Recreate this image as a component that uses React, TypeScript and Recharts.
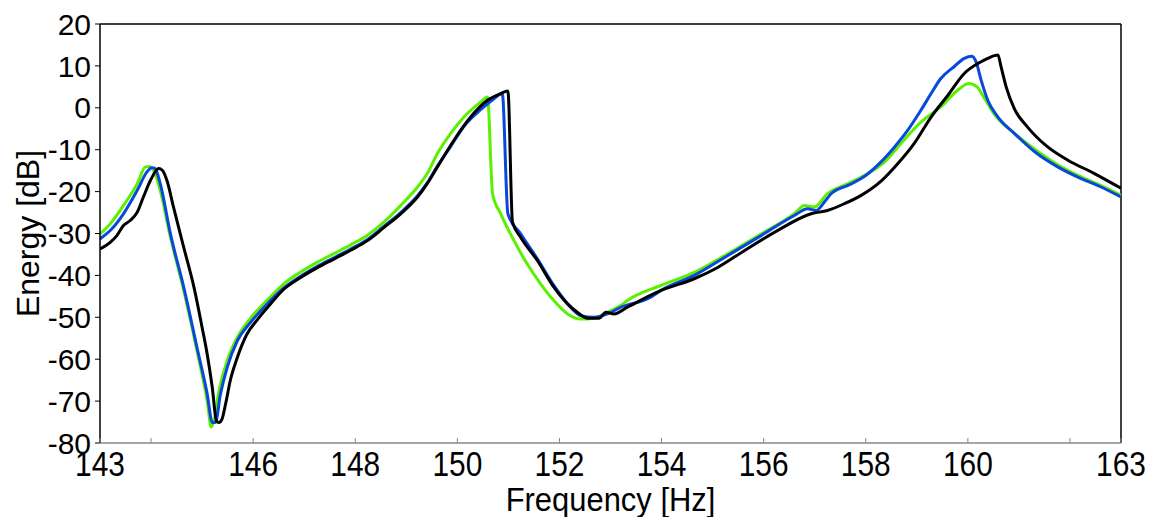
import { LineChart, Line, XAxis, YAxis, ReferenceLine } from 'recharts';

// frequency ticks (only some get a label)
const freqTicks = [143, 144, 146, 148, 150, 152, 154, 156, 158, 160, 162, 163];
const freqLabels = [143, 146, 148, 150, 152, 154, 156, 158, 160, 163];
const energyTicks = [-80, -70, -60, -50, -40, -30, -20, -10, 0, 10, 20];

// green curve
const greenFreq = [
  143.0, 143.2, 143.46, 143.73, 143.89, 143.97, 144.08, 144.18, 144.38, 144.64, 144.9, 145.1, 145.18, 145.24,
  145.33, 145.49, 145.69, 145.95, 146.3, 146.6, 146.93, 147.25, 147.58, 147.91, 148.24, 148.56, 148.89, 149.22,
  149.41, 149.61, 149.87, 150.13, 150.46, 150.59, 150.69, 150.85, 151.11, 151.37, 151.63, 151.89, 152.16, 152.42,
  152.68, 152.94, 153.2, 153.33, 153.99, 154.64, 155.29, 155.95, 156.6, 156.8, 156.99, 157.25, 157.65, 158.04,
  158.37, 158.69, 159.08, 159.47, 159.8, 160.02, 160.18, 160.31, 160.51, 160.91, 161.31, 161.76, 162.22, 162.61, 163.0,
];
const greenDb = [
  -30.1, -27.7, -23.3, -18.1, -14.1, -14.0, -15.7, -19.7, -30.9, -43.6, -58.0, -70.0, -76.2, -74.3,
  -67.6, -60.4, -54.8, -50.2, -45.6, -42.0, -39.2, -36.9, -34.8, -32.7, -30.4, -27.3, -23.3, -18.9,
  -15.7, -10.9, -6.1, -2.2, 1.4, 2.6, -20.5, -25.3, -31.7, -37.3, -42.0, -46.0, -49.2, -50.4,
  -50.2, -48.8, -47.2, -46.0, -42.4, -39.3, -34.9, -30.1, -25.3, -23.3, -23.7, -20.5, -18.1, -15.7,
  -12.9, -8.5, -3.4, 0.2, 4.2, 5.8, 5.0, 2.6, -1.4, -6.1, -9.9, -13.6, -16.5, -18.6, -20.9,
];

// blue curve
const blueFreq = [
  143.0, 143.2, 143.46, 143.73, 143.92, 144.02, 144.08, 144.18, 144.38, 144.64, 144.9, 145.1, 145.2, 145.26,
  145.36, 145.49, 145.69, 145.95, 146.3, 146.6, 146.93, 147.25, 147.58, 147.91, 148.24, 148.56, 148.89, 149.22,
  149.41, 149.61, 149.87, 150.13, 150.46, 150.7, 150.88, 150.99, 151.24, 151.57, 151.89, 152.16, 152.42, 152.68,
  152.94, 153.2, 153.79, 153.99, 154.64, 155.29, 155.95, 156.6, 156.86, 157.03, 157.19, 157.32, 157.65, 157.91,
  158.3, 158.56, 158.82, 159.08, 159.28, 159.47, 159.73, 159.93, 160.08, 160.16, 160.26, 160.39, 160.59, 160.91,
  161.31, 161.76, 162.22, 162.61, 163.0,
];
const blueDb = [
  -31.3, -29.3, -25.3, -19.7, -15.3, -14.3, -14.5, -18.1, -30.1, -42.8, -57.2, -68.3, -75.1, -75.1,
  -68.3, -62.0, -55.6, -51.2, -46.5, -43.0, -40.2, -37.9, -35.8, -33.7, -31.4, -28.3, -25.0, -21.0,
  -17.9, -13.9, -9.2, -4.4, -0.4, 2.0, 3.4, -25.3, -30.1, -36.1, -42.4, -46.8, -49.6, -50.0,
  -49.2, -47.6, -45.2, -43.6, -40.0, -35.3, -30.5, -25.7, -24.1, -24.5, -22.5, -20.5, -18.5, -16.9,
  -12.9, -9.4, -5.4, -0.6, 3.4, 7.0, 9.8, 11.8, 12.3, 11.0, 6.6, 1.8, -2.2, -6.1,
  -10.5, -14.1, -16.9, -18.9, -21.3,
];

// black curve
const blackFreq = [
  143.0, 143.2, 143.33, 143.46, 143.59, 143.73, 143.85, 143.99, 144.15, 144.22, 144.31, 144.44, 144.64, 144.84,
  145.0, 145.1, 145.2, 145.28, 145.33, 145.39, 145.46, 145.55, 145.69, 145.88, 146.08, 146.34, 146.6, 146.93,
  147.25, 147.58, 147.91, 148.24, 148.56, 148.89, 149.22, 149.41, 149.61, 149.93, 150.26, 150.59, 150.85, 150.99,
  151.08, 151.24, 151.57, 151.89, 152.16, 152.35, 152.55, 152.78, 152.91, 153.07, 153.33, 153.99, 154.64, 155.1,
  155.62, 156.27, 156.93, 157.25, 157.58, 157.91, 158.3, 158.63, 158.95, 159.28, 159.61, 159.93, 160.26, 160.39,
  160.59, 160.65, 160.75, 160.91, 161.17, 161.57, 161.96, 162.48, 163.0,
];
const blackDb = [
  -33.7, -32.1, -30.5, -28.1, -26.9, -24.9, -21.3, -17.3, -14.5, -14.9, -17.3, -23.7, -33.3, -42.8,
  -52.4, -58.8, -66.8, -74.7, -75.1, -74.3, -70.7, -65.2, -59.6, -54.0, -50.6, -46.8, -43.3, -40.5,
  -38.2, -36.1, -34.0, -31.7, -28.6, -25.3, -21.3, -18.1, -14.1, -7.8, -2.2, 1.8, 3.4, 4.0,
  -27.3, -30.9, -36.5, -42.8, -46.8, -48.8, -50.2, -50.2, -48.8, -49.2, -47.6, -43.6, -40.8, -38.1,
  -34.1, -29.3, -25.3, -24.5, -22.9, -20.9, -17.5, -13.3, -8.5, -2.2, 3.0, 8.2, 11.0, 11.8,
  12.6, 9.8, 5.0, -0.2, -4.6, -9.4, -12.5, -15.7, -19.2,
];

const toRows = (freq: number[], db: number[]) => freq.map((f, i) => ({ f, db: db[i] }));

const series = [
  { name: 'green', color: '#5cf000', rows: toRows(greenFreq, greenDb) },
  { name: 'blue', color: '#0a47dc', rows: toRows(blueFreq, blueDb) },
  { name: 'black', color: '#000000', rows: toRows(blackFreq, blackDb) },
];

const FONT = '"Liberation Sans", Arial, sans-serif';

const FreqTick = (props: any) => {
  const { x, y, payload } = props;
  const showLabel = freqLabels.includes(payload.value);
  return (
    <g>
      <line x1={x} x2={x} y1={y} y2={y - 5} stroke="#888" strokeWidth={1} />
      {showLabel && (
        <text
          transform={`translate(${x},${y + 33}) scale(0.83,1)`}
          textAnchor="middle"
          fontFamily={FONT}
          fontSize={36}
          fill="#000"
        >
          {payload.value}
        </text>
      )}
    </g>
  );
};

const FreqTitle = (props: any) => {
  const vb = props.viewBox;
  return (
    <text
      transform={`translate(${vb.x + vb.width / 2},511) scale(0.91,1)`}
      textAnchor="middle"
      fontFamily={FONT}
      fontSize={34}
      fill="#000"
    >
      Frequency [Hz]
    </text>
  );
};

const EnergyTitle = (props: any) => {
  const vb = props.viewBox;
  const cy = vb.y + vb.height / 2;
  return (
    <text
      transform={`translate(39,${cy}) rotate(-90)`}
      textAnchor="middle"
      fontFamily={FONT}
      fontSize={32}
      fill="#000"
    >
      Energy [dB]
    </text>
  );
};

export default function App() {
  return (
    <div style={{ position: 'absolute', left: 0, top: 0, background: '#fff' }}>
      <LineChart width={1154} height={517} margin={{ top: 24, right: 33, bottom: 0, left: 0 }}>
        <XAxis
          dataKey="f"
          type="number"
          domain={[143, 163]}
          ticks={freqTicks}
          interval={0}
          allowDataOverflow
          height={74}
          tickSize={0}
          tickMargin={0}
          tickLine={false}
          tick={<FreqTick />}
          axisLine={{ stroke: '#888', strokeWidth: 1.5 }}
          label={{ content: FreqTitle }}
        />
        <YAxis
          type="number"
          domain={[-80, 20]}
          ticks={energyTicks}
          interval={0}
          allowDataOverflow
          width={100}
          tickSize={5}
          tickMargin={4}
          tickLine={{ stroke: '#000' }}
          axisLine={{ stroke: '#000', strokeWidth: 1.5 }}
          tick={{ fill: '#000', fontSize: 30, fontFamily: FONT }}
          label={{ content: EnergyTitle }}
        />
        <ReferenceLine y={20} stroke="#000" strokeWidth={1.5} />
        <ReferenceLine x={163} stroke="#000" strokeWidth={1.5} />
        {series.map((s) => (
          <Line
            key={s.name}
            data={s.rows}
            dataKey="db"
            type="monotone"
            stroke={s.color}
            strokeWidth={3}
            dot={false}
            activeDot={false}
            isAnimationActive={false}
          />
        ))}
      </LineChart>
    </div>
  );
}
